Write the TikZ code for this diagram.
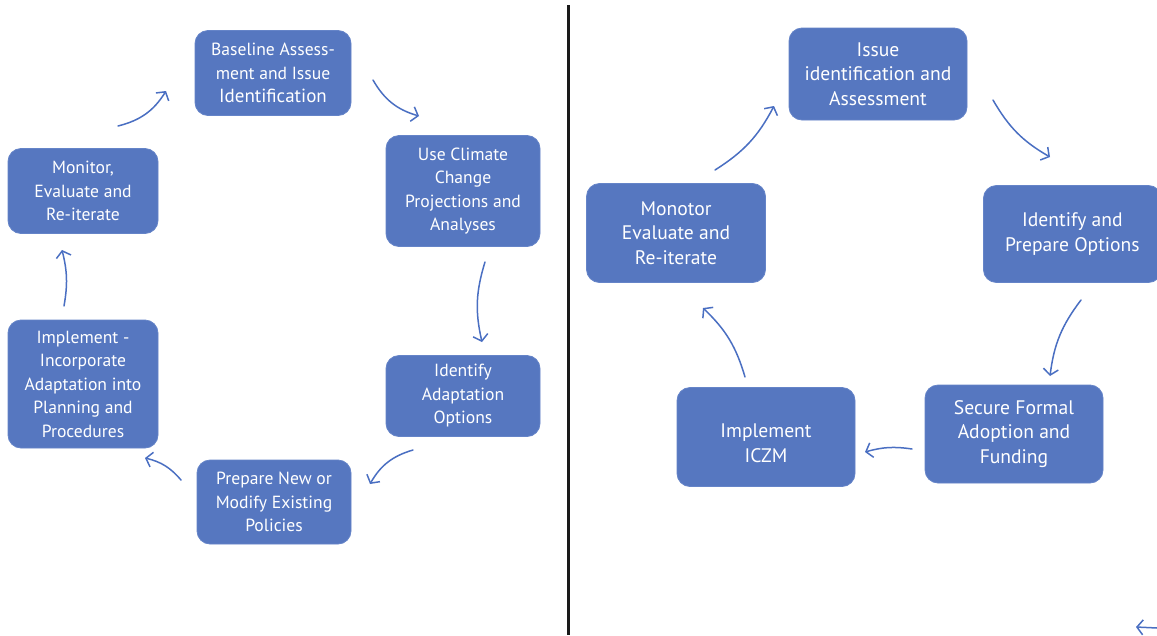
\documentclass[tikz,border=0pt]{standalone}
\usepackage{fontspec}
\setmainfont{PT Sans}
\usetikzlibrary{arrows.meta}
\definecolor{boxblue}{HTML}{5677C0}
\definecolor{boxedge}{HTML}{6584C8}
\definecolor{arrblue}{HTML}{4A6FC2}
\definecolor{divider}{HTML}{1A1A1A}
\begin{document}
\begin{tikzpicture}[x=1pt,y=-1pt,
  box/.style={draw=boxedge, line width=0.8pt, fill=boxblue, rounded corners=13pt,
    text=white, align=center, inner sep=0pt},
  lbox/.style={box, font=\fontsize{17.6}{23.5}\selectfont},
  rbox/.style={box, font=\fontsize{19.6}{24.5}\selectfont},
  arr/.style={draw=arrblue, line width=1.5pt, line cap=round,
    -{Straight Barb[length=6pt,width=15pt,line width=1.5pt]}}]
\useasboundingbox (0,0) rectangle (1157,635);
\fill[white] (0,0) rectangle (1157,635);
% divider
\draw[divider, line width=3pt] (568,5) -- (568,635);
% left cycle
\node[lbox, minimum width=156pt, minimum height=85pt] (b1) at (273,73)
  {Baseline Assess-\\ment and Issue\\{\fontsize{19}{23.5}\selectfont Identification}};
\node[lbox, minimum width=154pt, minimum height=111pt] (b2) at (463,191)
  {Use Climate\\Change\\Projections and\\Analyses};
\node[lbox, minimum width=154pt, minimum height=81pt] (b3) at (463,396)
  {Identify\\Adaptation\\Options};
\node[lbox, minimum width=154pt, minimum height=84pt] (b4) at (274,502)
  {Prepare New or\\Modify Existing\\Policies};
\node[lbox, minimum width=150pt, minimum height=128pt] (b5) at (83,384)
  {Implement -\\Incorporate\\Adaptation into\\Planning and\\Procedures};
\node[lbox, minimum width=150pt, minimum height=85pt] (b6) at (83,191)
  {Monitor,\\Evaluate and\\Re-iterate};
% right cycle
\node[rbox, minimum width=178pt, minimum height=92pt] (r1) at (878,74)
  {Issue\\identification and\\Assessment};
\node[rbox, minimum width=178pt, minimum height=97pt, anchor=west] (r2) at (983,234)
  {Identify and\\Prepare Options};
\node[rbox, minimum width=178pt, minimum height=98pt] (r3) at (1014,434)
  {Secure Formal\\Adoption and\\Funding};
\node[rbox, minimum width=178pt, minimum height=99pt] (r4) at (766,437)
  {\raisebox{-13pt}[0pt][0pt]{\begin{tabular}{@{}c@{}}Implement\\[0.5pt]ICZM\end{tabular}}};
\node[rbox, minimum width=179pt, minimum height=99pt] (r5) at (676,233)
  {Monotor\\Evaluate and\\Re-iterate};
% arrow endpoints left
\coordinate (l1s) at (118,126); \coordinate (l1e) at (166,91);
\coordinate (l2s) at (373,80);  \coordinate (l2e) at (419,116);
\coordinate (l3s) at (485,262); \coordinate (l3e) at (482,342);
\coordinate (l4s) at (413,450); \coordinate (l4e) at (370,484);
\coordinate (l5s) at (181,480); \coordinate (l5e) at (145,458);
\coordinate (l6s) at (64,306);  \coordinate (l6e) at (62,250);
% arrow endpoints right
\coordinate (r1s) at (715,170); \coordinate (r1e) at (774,106);
\coordinate (r2s) at (993,100); \coordinate (r2e) at (1050,157);
\coordinate (r3s) at (1081,300); \coordinate (r3e) at (1050,376);
\coordinate (r4s) at (912,449); \coordinate (r4e) at (865,452);
\coordinate (r5s) at (745,377); \coordinate (r5e) at (703,308);
\coordinate (xs) at (1157,628); \coordinate (xe) at (1136,627);
% arrows
\draw[arr] (l1s) to[bend right=22] (l1e);
\draw[arr] (l2s) to[bend right=22] (l2e);
\draw[arr] (l3s) to[bend right=15] (l3e);
\draw[arr] (l4s) to[bend right=22] (l4e);
\draw[arr] (l5s) to[bend right=18] (l5e);
\draw[arr] (l6s) to[bend right=12] (l6e);
\draw[arr] (r1s) to[bend right=15] (r1e);
\draw[arr] (r2s) to[bend right=15] (r2e);
\draw[arr] (r3s) to[bend right=15] (r3e);
\draw[arr] (r4s) to[bend right=12] (r4e);
\draw[arr] (r5s) to[bend right=15] (r5e);
\draw[arr] (xs) -- (xe);
\end{tikzpicture}
\end{document}
